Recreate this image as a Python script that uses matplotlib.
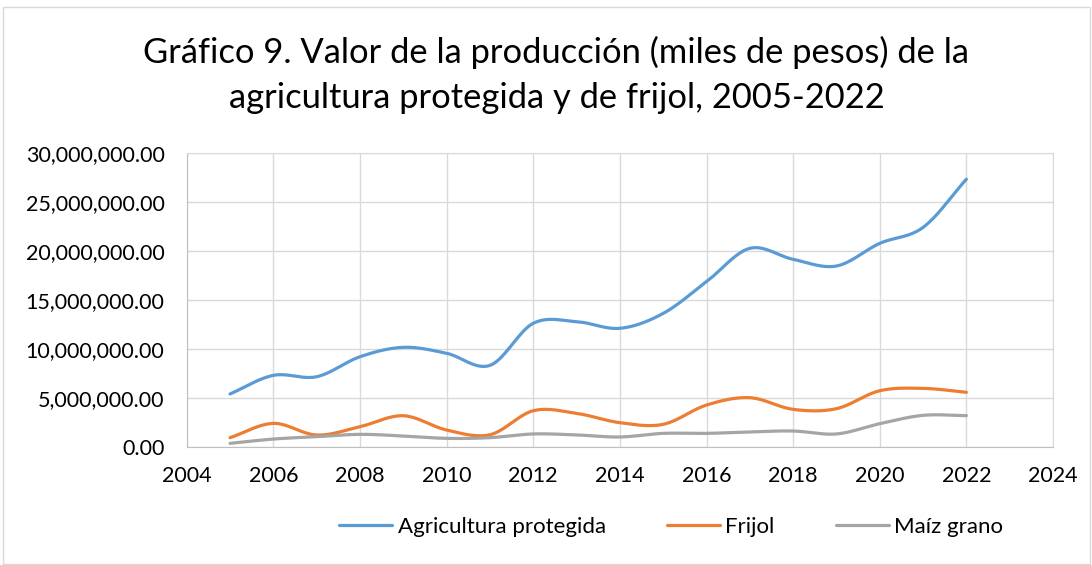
import numpy as np
import matplotlib
matplotlib.use("Agg")
import matplotlib.pyplot as plt
from matplotlib.ticker import FuncFormatter, MultipleLocator
from matplotlib.patches import Rectangle

plt.rcParams['font.family'] = ['Lato', 'DejaVu Sans']

years = list(range(2005, 2023))
agricultura_protegida = [5.38, 7.28, 7.14, 9.18, 10.14, 9.53, 8.30, 12.59, 12.76, 12.08,
                         13.60, 16.84, 20.24, 19.12, 18.44, 20.75, 22.38, 27.30]
frijol = [0.92, 2.38, 1.19, 2.04, 3.16, 1.70, 1.22, 3.67, 3.40, 2.45,
          2.28, 4.25, 5.00, 3.81, 3.88, 5.71, 5.95, 5.55]
maiz_grano = [0.34, 0.78, 1.02, 1.26, 1.09, 0.85, 0.92, 1.30, 1.20, 0.99,
              1.36, 1.36, 1.50, 1.60, 1.30, 2.35, 3.20, 3.17]
series_names = ["Agricultura protegida", "Frijol", "Maíz grano"]
colors = ["#5B9BD5", "#ED7D31", "#A5A5A5"]
title_lines = ["Gráfico 9. Valor de la producción (miles de pesos) de la",
               "agricultura protegida y de frijol, 2005-2022"]


def smooth(x, y, n=20):
    """Catmull-Rom spline through the points (smoothed line)."""
    x = np.asarray(x, float)
    y = np.asarray(y, float)
    px = np.concatenate([[2 * x[0] - x[1]], x, [2 * x[-1] - x[-2]]])
    py = np.concatenate([[2 * y[0] - y[1]], y, [2 * y[-1] - y[-2]]])
    xs, ys = [], []
    t = np.linspace(0, 1, n, endpoint=False)
    for i in range(1, len(px) - 2):
        for arr, out in ((px, xs), (py, ys)):
            p0, p1, p2, p3 = arr[i - 1], arr[i], arr[i + 1], arr[i + 2]
            out.extend(0.5 * ((2 * p1) + (-p0 + p2) * t
                              + (2 * p0 - 5 * p1 + 4 * p2 - p3) * t ** 2
                              + (-p0 + 3 * p1 - 3 * p2 + p3) * t ** 3))
    xs.append(x[-1])
    ys.append(y[-1])
    return np.array(xs), np.array(ys)


fig = plt.figure(figsize=(10.92, 5.65), dpi=100)
fig.patches.append(Rectangle((0.003, 0.002), 0.995, 0.985, transform=fig.transFigure,
                             fill=False, edgecolor="#d9d9d9", linewidth=1))
ax = fig.add_axes([0.171, 0.2094, 0.7933, 0.5203])

for vals, name, c in zip([agricultura_protegida, frijol, maiz_grano], series_names, colors):
    sx, sy = smooth(years, np.array(vals) * 1e6)
    ax.plot(sx, sy, color=c, linewidth=2.3, label=name, solid_capstyle="round")

ax.set_xlim(2004, 2024)
ax.set_ylim(0, 30e6)
ax.xaxis.set_major_locator(MultipleLocator(2))
ax.yaxis.set_major_locator(MultipleLocator(5e6))
ax.yaxis.set_major_formatter(FuncFormatter(lambda v, p: f"{v:,.2f}"))
ax.grid(True, color="#d9d9d9", linewidth=1)
ax.set_axisbelow(True)
for s in ax.spines.values():
    s.set_color("#d9d9d9")
ax.spines['bottom'].set_color("#bfbfbf")
ax.spines['left'].set_color("#bfbfbf")
ax.tick_params(length=0, labelsize=15.5, colors="black")
ax.tick_params(axis="y", pad=16)
ax.tick_params(axis="x", pad=14)

fig.text(0.5096, 0.8885, title_lines[0], ha="center", va="baseline", fontsize=24.8)
fig.text(0.5096, 0.8088, title_lines[1], ha="center", va="baseline", fontsize=24.8)

fig.legend(loc="center", bbox_to_anchor=(0.6145, 0.067), ncol=3, frameon=False,
           fontsize=16, handlelength=2.4, handletextpad=0.23, columnspacing=2.75)

fig.savefig("out.png", dpi=100)
